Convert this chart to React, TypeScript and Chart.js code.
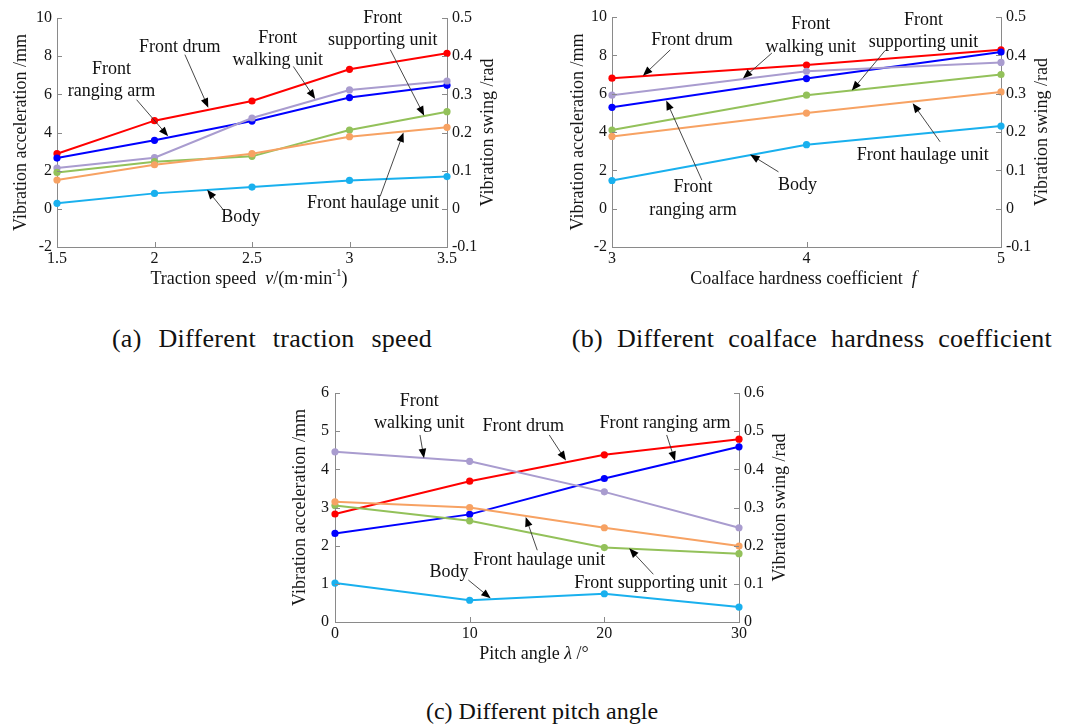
import React, { useEffect, useRef } from "react";
import { Chart, registerables } from "chart.js";

Chart.register(...registerables);

const FONT = "'Liberation Serif', 'Times New Roman', Times, serif";

// ---------- (a) Different traction speed ----------
const speedX = [1.5, 2, 2.5, 3, 3.5];
const speedDrum = [2.89, 4.62, 5.65, 7.31, 8.15];
const speedRanging = [2.66, 3.59, 4.6, 5.83, 6.47];
const speedWalking = [2.14, 2.68, 4.76, 6.23, 6.7];
const speedSupporting = [1.91, 2.47, 2.75, 4.13, 5.09];
const speedHaulage = [1.51, 2.31, 2.89, 3.78, 4.27];
const speedBody = [0.29, 0.81, 1.14, 1.49, 1.69];

// ---------- (b) Different coalface hardness coefficient ----------
const hardX = [3, 4, 5];
const hardDrum = [6.81, 7.49, 8.29];
const hardRanging = [5.29, 6.79, 8.17];
const hardWalking = [5.92, 7.17, 7.63];
const hardSupporting = [4.1, 5.92, 7.0];
const hardHaulage = [3.77, 4.99, 6.09];
const hardBody = [1.47, 3.34, 4.31];

// ---------- (c) Different pitch angle ----------
const pitchX = [0, 10, 20, 30];
const pitchDrum = [2.83, 3.69, 4.38, 4.79];
const pitchRanging = [2.32, 2.82, 3.76, 4.59];
const pitchWalking = [4.46, 4.21, 3.41, 2.47];
const pitchSupporting = [3.05, 2.65, 1.95, 1.79];
const pitchHaulage = [3.15, 3.0, 2.47, 1.99];
const pitchBody = [1.02, 0.57, 0.74, 0.39];

const COLORS = {
  drum: "#ff0000",
  ranging: "#0000ff",
  walking: "#a99ccf",
  supporting: "#93c15a",
  haulage: "#f7a263",
  body: "#19b0ee",
};

type Note = { lines: string[]; x: number; y: number; arrow: [number, number, number, number] };
type Seg = { t: string; italic?: boolean; sup?: boolean };

// Annotations (positions in data units)
const speedNotes: Note[] = [
  { lines: ["Front drum"], x: 2.13, y: 8.48, arrow: [2.156, 8.08, 2.276, 5.3] },
  { lines: ["Front", "ranging arm"], x: 1.78, y: 6.75, arrow: [1.908, 5.72, 2.07, 3.8] },
  { lines: ["Front", "walking unit"], x: 2.632, y: 8.37, arrow: [2.712, 7.46, 2.824, 5.76] },
  { lines: ["Front", "supporting unit"], x: 3.171, y: 9.41, arrow: [3.209, 8.34, 3.383, 4.88] },
  { lines: ["Front haulage unit"], x: 3.12, y: 0.27, arrow: [3.157, 0.65, 3.277, 4.0] },
  { lines: ["Body"], x: 2.442, y: -0.43, arrow: [2.353, -0.05, 2.27, 1.0] },
];
const hardNotes: Note[] = [
  { lines: ["Front drum"], x: 3.411, y: 8.81, arrow: [3.3, 8.29, 3.159, 6.93] },
  { lines: ["Front", "walking unit"], x: 4.022, y: 9.01, arrow: [3.822, 8.12, 3.673, 6.79] },
  { lines: ["Front", "supporting unit"], x: 4.601, y: 9.25, arrow: [4.404, 8.25, 4.233, 6.16] },
  { lines: ["Front haulage unit"], x: 4.598, y: 2.8, arrow: [4.687, 3.49, 4.546, 5.5] },
  { lines: ["Body"], x: 3.954, y: 1.23, arrow: [3.856, 1.92, 3.71, 2.83] },
  { lines: ["Front", "ranging arm"], x: 3.416, y: 0.51, arrow: [3.462, 1.49, 3.279, 5.64] },
];
const pitchNotes: Note[] = [
  { lines: ["Front", "walking unit"], x: 6.26, y: 5.49, arrow: [6.31, 4.9, 6.61, 4.29] },
  { lines: ["Front drum"], x: 13.98, y: 5.12, arrow: [15.91, 4.9, 17.15, 4.23] },
  { lines: ["Front ranging arm"], x: 24.5, y: 5.21, arrow: [24.63, 4.9, 25.25, 4.22] },
  { lines: ["Front haulage unit"], x: 15.17, y: 1.62, arrow: [15.02, 1.88, 14.16, 2.75] },
  { lines: ["Front supporting unit"], x: 23.44, y: 1.01, arrow: [23.64, 1.25, 21.85, 1.93] },
  { lines: ["Body"], x: 8.47, y: 1.3, arrow: [9.9, 1.1, 11.56, 0.62] },
];

const speedTitle: Seg[] = [{ t: "Traction speed  " }, { t: "v", italic: true }, { t: "/(m·min" }, { t: "-1", sup: true }, { t: ")" }];
const hardTitle: Seg[] = [{ t: "Coalface hardness coefficient  " }, { t: "f", italic: true }];
const pitchTitle: Seg[] = [{ t: "Pitch angle " }, { t: "λ", italic: true }, { t: " /°" }];

type Spec = {
  W: number; H: number; left: number; top: number;
  plotLeft: number; plotRight: number; plotTop: number; plotBottom: number;
  leftTitleX: number; rightTitleX: number; tickPadLeft: number;
  xs: number[]; series: { label: string; color: string; values: number[] }[];
  xMin: number; xMax: number; xStep: number;
  yMin: number; yMax: number; yStep: number;
  rMin: number; rMax: number; rStep: number;
  xTitle: Seg[]; notes: Note[];
};

const makeSeries = (d: number[], r: number[], w: number[], s: number[], h: number[], b: number[]) => [
  { label: "Front haulage unit", color: COLORS.haulage, values: h },
  { label: "Front supporting unit", color: COLORS.supporting, values: s },
  { label: "Front walking unit", color: COLORS.walking, values: w },
  { label: "Front ranging arm", color: COLORS.ranging, values: r },
  { label: "Front drum", color: COLORS.drum, values: d },
  { label: "Body", color: COLORS.body, values: b },
];

const SPECS: Spec[] = [
  {
    W: 540, H: 300, left: 0, top: 0,
    plotLeft: 57, plotRight: 447, plotTop: 18, plotBottom: 247,
    leftTitleX: 21, rightTitleX: 488, tickPadLeft: 5,
    xs: speedX, series: makeSeries(speedDrum, speedRanging, speedWalking, speedSupporting, speedHaulage, speedBody),
    xMin: 1.5, xMax: 3.5, xStep: 0.5, yMin: -2, yMax: 10, yStep: 2, rMin: -0.1, rMax: 0.5, rStep: 0.1,
    xTitle: speedTitle, notes: speedNotes,
  },
  {
    W: 541, H: 300, left: 540, top: 0,
    plotLeft: 72, plotRight: 461, plotTop: 17, plotBottom: 247,
    leftTitleX: 38, rightTitleX: 502, tickPadLeft: 5,
    xs: hardX, series: makeSeries(hardDrum, hardRanging, hardWalking, hardSupporting, hardHaulage, hardBody),
    xMin: 3, xMax: 5, xStep: 1, yMin: -2, yMax: 10, yStep: 2, rMin: -0.1, rMax: 0.5, rStep: 0.1,
    xTitle: hardTitle, notes: hardNotes,
  },
  {
    W: 520, H: 320, left: 280, top: 370,
    plotLeft: 55, plotRight: 459, plotTop: 23, plotBottom: 252,
    leftTitleX: 20, rightTitleX: 500, tickPadLeft: 6,
    xs: pitchX, series: makeSeries(pitchDrum, pitchRanging, pitchWalking, pitchSupporting, pitchHaulage, pitchBody),
    xMin: 0, xMax: 30, xStep: 10, yMin: 0, yMax: 6, yStep: 1, rMin: 0, rMax: 0.6, rStep: 0.1,
    xTitle: pitchTitle, notes: pitchNotes,
  },
];

const fmt = (v: number | string) => String(Number(Number(v).toFixed(2)));

function drawRich(ctx: CanvasRenderingContext2D, segs: Seg[], cx: number, cy: number, size: number) {
  const parts = segs.map((s) => {
    const fs = s.sup ? size * 0.62 : size;
    const font = `${s.italic ? "italic " : ""}${fs}px ${FONT}`;
    ctx.font = font;
    return { ...s, font, w: ctx.measureText(s.t).width };
  });
  const total = parts.reduce((a, p) => a + p.w, 0);
  let x = cx - total / 2;
  const base = cy + size * 0.32;
  ctx.textAlign = "left";
  ctx.textBaseline = "alphabetic";
  for (const p of parts) {
    ctx.font = p.font;
    ctx.fillText(p.t, x, p.sup ? base - size * 0.42 : base);
    x += p.w;
  }
}

function buildConfig(spec: Spec): any {
  const decor = {
    id: "decor",
    afterDraw(chart: any) {
      const ctx: CanvasRenderingContext2D = chart.ctx;
      const xs = chart.scales.x;
      const ys = chart.scales.y;
      const rs = chart.scales.y2;
      const area = chart.chartArea;
      ctx.save();
      // inward tick marks
      ctx.strokeStyle = "#8a8a8a";
      ctx.lineWidth = 1;
      ctx.beginPath();
      for (const t of ys.ticks) {
        const py = Math.round(ys.getPixelForValue(t.value)) + 0.5;
        ctx.moveTo(area.left, py);
        ctx.lineTo(area.left + 5, py);
      }
      for (const t of rs.ticks) {
        const py = Math.round(rs.getPixelForValue(t.value)) + 0.5;
        ctx.moveTo(area.right, py);
        ctx.lineTo(area.right - 5, py);
      }
      for (const t of xs.ticks) {
        const px = Math.round(xs.getPixelForValue(t.value)) + 0.5;
        ctx.moveTo(px, area.bottom);
        ctx.lineTo(px, area.bottom - 5);
      }
      ctx.stroke();

      // axis titles
      ctx.fillStyle = "#151515";
      const midY = (area.top + area.bottom) / 2;
      ctx.font = `18px ${FONT}`;
      ctx.textAlign = "center";
      ctx.textBaseline = "middle";
      ctx.save();
      ctx.translate(spec.leftTitleX, midY);
      ctx.rotate(-Math.PI / 2);
      ctx.fillText("Vibration acceleration /mm", 0, 0);
      ctx.restore();
      ctx.save();
      ctx.translate(spec.rightTitleX, midY);
      ctx.rotate(-Math.PI / 2);
      ctx.fillText("Vibration swing /rad", 0, 0);
      ctx.restore();
      drawRich(ctx, spec.xTitle, (area.left + area.right) / 2 - 3, area.bottom + 31, 18);

      // annotations
      for (const n of spec.notes) {
        const cx = xs.getPixelForValue(n.x);
        const cy = ys.getPixelForValue(n.y);
        const lh = 22.5;
        ctx.font = `18px ${FONT}`;
        ctx.textAlign = "center";
        ctx.textBaseline = "middle";
        ctx.fillStyle = "#111";
        n.lines.forEach((l, i) => {
          ctx.fillText(l, cx, cy + (i - (n.lines.length - 1) / 2) * lh);
        });
        const [ax1, ay1, ax2, ay2] = n.arrow;
        const x1 = xs.getPixelForValue(ax1), y1 = ys.getPixelForValue(ay1);
        const x2 = xs.getPixelForValue(ax2), y2 = ys.getPixelForValue(ay2);
        const ang = Math.atan2(y2 - y1, x2 - x1);
        const hl = 9.5, hw = 3.8;
        ctx.strokeStyle = "#333";
        ctx.lineWidth = 0.9;
        ctx.beginPath();
        ctx.moveTo(x1, y1);
        ctx.lineTo(x2 - Math.cos(ang) * hl * 0.8, y2 - Math.sin(ang) * hl * 0.8);
        ctx.stroke();
        ctx.fillStyle = "#000";
        ctx.beginPath();
        ctx.moveTo(x2, y2);
        ctx.lineTo(x2 - Math.cos(ang) * hl - Math.sin(ang) * hw, y2 - Math.sin(ang) * hl + Math.cos(ang) * hw);
        ctx.lineTo(x2 - Math.cos(ang) * hl + Math.sin(ang) * hw, y2 - Math.sin(ang) * hl - Math.cos(ang) * hw);
        ctx.closePath();
        ctx.fill();
      }
      ctx.restore();
    },
  };

  const tickFont = { family: FONT, size: 16 };
  const border = { display: true, color: "#8a8a8a", width: 1 };
  return {
    type: "line",
    data: {
      datasets: spec.series.map((s) => ({
        label: s.label,
        data: spec.xs.map((x, i) => ({ x, y: s.values[i] })),
        borderColor: s.color,
        backgroundColor: s.color,
        borderWidth: 2,
        pointRadius: 3.6,
        pointBorderWidth: 0,
        pointBackgroundColor: s.color,
        tension: 0,
        clip: false,
        yAxisID: "y",
      })),
    },
    options: {
      responsive: false,
      animation: false,
      events: [],
      layout: { padding: { top: spec.plotTop, left: 0, right: 0, bottom: 0 } },
      plugins: { legend: { display: false }, tooltip: { enabled: false } },
      scales: {
        x: {
          type: "linear",
          min: spec.xMin,
          max: spec.xMax,
          grid: { display: false, drawTicks: false },
          border,
          ticks: { stepSize: spec.xStep, font: tickFont, color: "#151515", padding: 2, maxRotation: 0, autoSkip: false, callback: (v: number) => fmt(v) },
          afterFit: (s: any) => { s.height = spec.H - spec.plotBottom; },
        },
        y: {
          type: "linear",
          position: "left",
          min: spec.yMin,
          max: spec.yMax,
          grid: { display: false, drawTicks: false },
          border,
          ticks: { stepSize: spec.yStep, font: tickFont, color: "#151515", padding: spec.tickPadLeft, callback: (v: number) => fmt(v) },
          afterFit: (s: any) => { s.width = spec.plotLeft; },
        },
        y2: {
          type: "linear",
          position: "right",
          min: spec.rMin,
          max: spec.rMax,
          grid: { display: false, drawTicks: false },
          border,
          ticks: { stepSize: spec.rStep, font: tickFont, color: "#151515", padding: 5, callback: (v: number) => fmt(v) },
          afterFit: (s: any) => { s.width = spec.W - spec.plotRight; },
        },
      },
    },
    plugins: [decor],
  };
}

function SubChart({ spec }: { spec: Spec }) {
  const ref = useRef<HTMLCanvasElement>(null);
  useEffect(() => {
    const chart = new Chart(ref.current as HTMLCanvasElement, buildConfig(spec));
    return () => chart.destroy();
  }, [spec]);
  return (
    <canvas
      ref={ref}
      width={spec.W}
      height={spec.H}
      style={{ position: "absolute", left: spec.left, top: spec.top, width: spec.W, height: spec.H }}
    />
  );
}

const CAPTIONS = [
  { text: "(a) Different traction speed", cx: 272, top: 326, size: 26, ws: 10, ls: 0.3 },
  { text: "(b) Different coalface hardness coefficient", cx: 812, top: 326, size: 26, ws: 7, ls: 0.3 },
  { text: "(c) Different pitch angle", cx: 542, top: 699, size: 24, ws: 0, ls: 0 },
];

export default function App() {
  return (
    <div style={{ position: "absolute", left: 0, top: 0, width: 1081, height: 727, background: "#fff", overflow: "hidden" }}>
      {SPECS.map((s, i) => (
        <SubChart key={i} spec={s} />
      ))}
      {CAPTIONS.map((c, i) => (
        <div
          key={i}
          style={{
            position: "absolute",
            left: c.cx - 350,
            width: 700,
            top: c.top,
            textAlign: "center",
            fontFamily: FONT,
            fontSize: c.size,
            lineHeight: `${c.size}px`,
            wordSpacing: c.ws,
            letterSpacing: c.ls,
            whiteSpace: "nowrap",
            color: "#111",
          }}
        >
          {c.text}
        </div>
      ))}
    </div>
  );
}
